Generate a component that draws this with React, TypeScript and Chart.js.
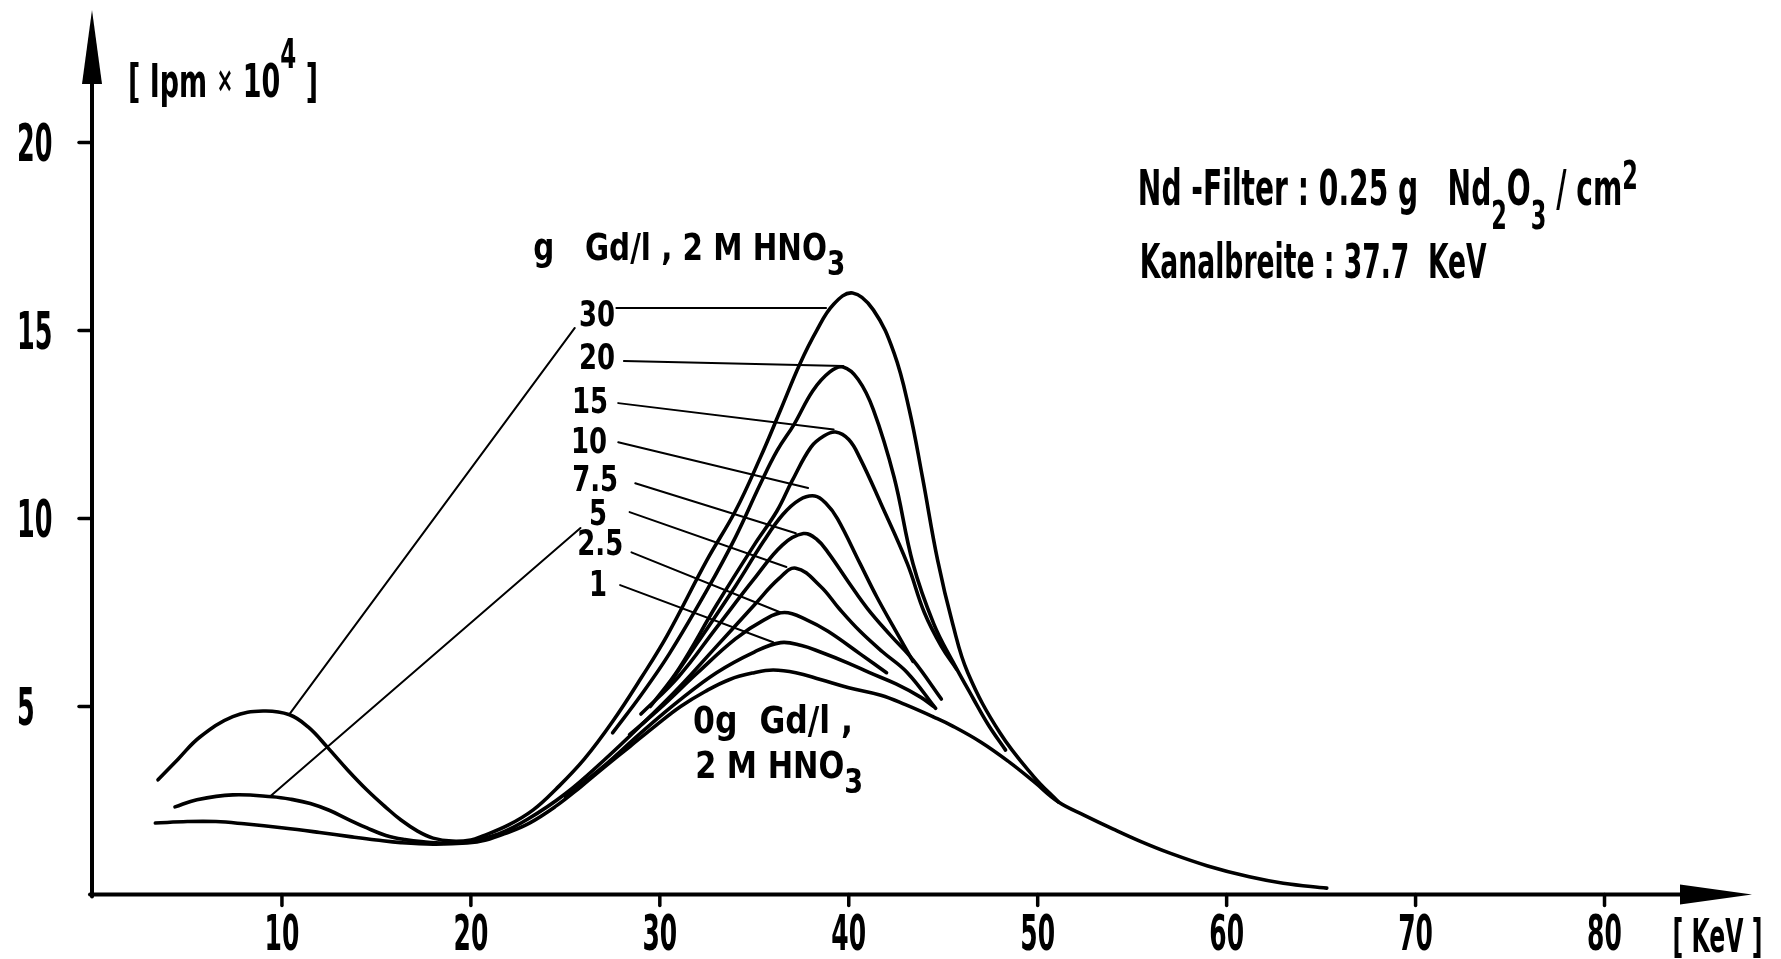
import { useEffect, useRef } from "react";
import { Chart, registerables } from "chart.js";

Chart.register(...registerables);

// ---------- data (energy keV, counts in 10^4 Ipm) ----------
const xTicks = [10, 20, 30, 40, 50, 60, 70, 80];
const yTicks = [5, 10, 15, 20];

const gd0: [number, number][] = [
  [3.3, 1.9], [5, 1.94], [6.5, 1.94], [8, 1.88], [10.1, 1.77], [12, 1.65], [13.6, 1.54], [15, 1.45],
  [16.3, 1.38], [18, 1.34], [19.8, 1.37], [20.8, 1.45], [21.8, 1.62], [23.1, 1.9], [24.5, 2.35],
  [25.8, 2.86], [27.1, 3.4], [28.4, 3.93], [29.8, 4.5], [31.1, 5.0], [32.4, 5.4], [33.7, 5.72],
  [35, 5.9], [36, 5.97], [37.2, 5.9], [38.5, 5.72], [40, 5.5], [41.7, 5.3], [43, 5.05], [44.5, 4.72],
  [45.5, 4.48], [47, 4.05], [48.5, 3.52], [49.8, 3.0], [51.1, 2.46], [52.5, 2.1], [54, 1.74],
  [55.5, 1.4], [57, 1.1], [59, 0.76], [61.2, 0.47], [63, 0.3], [65.3, 0.17],
];
const gd1: [number, number][] = [
  [25, 2.6], [27, 3.4], [29, 4.3], [31, 5.15], [33, 5.9], [35, 6.45], [36.4, 6.7], [37.5, 6.62],
  [38.5, 6.45], [40, 6.15], [41.1, 5.9], [42.5, 5.6], [43.8, 5.25], [44.5, 5.0],
];
const gd2_5: [number, number][] = [
  [28.4, 4.25], [30, 4.95], [32, 5.9], [34, 6.8], [35.5, 7.3], [36.6, 7.5], [37.8, 7.3], [38.9, 7.0],
  [40.6, 6.4], [42, 5.9],
];
const gd5: [number, number][] = [
  [4.34, 2.33], [5.5, 2.52], [7.4, 2.65], [9.5, 2.6], [10.5, 2.53], [11.5, 2.42], [12.5, 2.24],
  [13.5, 2.0], [14.5, 1.77], [15.5, 1.57], [16.5, 1.46], [17.5, 1.4], [18.6, 1.37], [19.8, 1.4],
  [21.5, 1.62], [23, 2.0], [25, 2.68], [27, 3.55], [29, 4.5], [31, 5.5], [33, 6.6], [35, 7.7],
  [36.3, 8.4], [37.2, 8.68], [38.5, 8.2], [39.5, 7.6], [40.6, 7.0], [41.8, 6.45], [43.1, 5.9],
  [44.6, 4.95],
];
const gd7_5: [number, number][] = [
  [29, 4.8], [31, 5.8], [33, 7.1], [35, 8.4], [36.5, 9.3], [37.6, 9.6], [38.3, 9.45], [38.9, 9.1],
  [40, 8.3], [41, 7.6], [42.2, 6.9], [43.4, 6.24], [44.9, 5.2],
];
const gd10: [number, number][] = [
  [30.5, 5.6], [32, 6.7], [34, 8.2], [35.5, 9.4], [36.5, 10.1], [37.4, 10.5], [38.2, 10.6],
  [38.8, 10.4], [39.4, 10.0], [40.6, 8.8], [41.5, 7.9], [42.5, 7.0], [43.4, 6.2],
];
const gd15: [number, number][] = [
  [29.5, 5.0], [31, 6.0], [33, 7.7], [35, 9.3], [36.2, 10.2], [37, 11.0], [38, 11.9], [38.7, 12.2],
  [39.3, 12.3], [40, 12.1], [40.6, 11.6], [41.7, 10.4], [43.1, 8.8], [44, 7.5], [44.9, 6.6], [45.7, 6.0],
];
const gd20: [number, number][] = [
  [27.5, 4.3], [29, 5.3], [30.5, 6.4], [32.5, 8.1], [34, 9.5], [35.3, 10.9], [36.2, 11.8], [37.1, 12.5],
  [38.1, 13.4], [39, 13.9], [39.7, 14.03], [40.5, 13.7], [41.3, 12.9], [42.4, 11.1], [43.4, 8.8],
  [44.5, 7.2], [45.5, 6.2], [46.6, 5.2], [47.4, 4.5], [48.3, 3.84],
];
const gd30: [number, number][] = [
  [3.44, 3.05], [4.5, 3.6], [5.66, 4.19], [7.4, 4.73], [9, 4.88], [10.4, 4.78], [11.4, 4.45],
  [12.4, 3.92], [13.5, 3.3], [14.5, 2.78], [15.5, 2.32], [16.3, 1.98], [17.2, 1.68], [18, 1.5],
  [19, 1.42], [20, 1.45], [20.6, 1.55], [22, 1.85], [23.3, 2.25], [24.5, 2.8], [26, 3.6], [27.5, 4.6],
  [29, 5.75], [30.4, 6.9], [32.5, 8.9], [34, 10.2], [35.3, 11.6], [36.4, 12.9], [37.4, 14.1],
  [38.3, 15.0], [39.2, 15.7], [40.2, 16.0], [41.3, 15.55], [42.4, 14.4], [43.2, 12.9], [43.9, 11.1],
  [44.7, 8.9], [45.5, 7.2], [46.3, 5.9], [48, 4.3], [49.8, 3.13], [51.1, 2.46],
];

// curve labels: text, right-edge energy, centre counts
const labelTexts = ["30", "20", "15", "10", "7.5", "5", "2.5", "1"];
const labelX = [27.63, 27.63, 27.26, 27.21, 27.79, 27.21, 28.06, 27.21];
const labelY = [15.47, 14.32, 13.15, 12.09, 11.08, 10.17, 9.38, 8.28];

// leader lines from labels to curves
const leaders: [number, number][][] = [
  [[27.7, 15.6], [38.8, 15.6]],
  [[28.1, 14.19], [39.7, 14.06]],
  [[27.8, 13.07], [39.2, 12.37]],
  [[27.8, 12.03], [37.85, 10.81]],
  [[28.7, 10.94], [37.2, 9.61]],
  [[28.4, 10.17], [36.7, 8.71]],
  [[28.5, 9.1], [36.4, 7.5]],
  [[27.9, 8.23], [36.0, 6.71]],
  [[25.5, 15.07], [10.4, 4.8]],
  [[25.8, 9.75], [9.4, 2.62]],
];

const curves = [gd0, gd1, gd2_5, gd5, gd7_5, gd10, gd15, gd20, gd30];

const FONT = "'DejaVu Sans', 'Liberation Sans', sans-serif";

type Part = { t: string; s?: number; dy?: number };

function rich(
  ctx: CanvasRenderingContext2D,
  parts: Part[],
  x: number,
  y: number,
  size: number,
  opts: { sx?: number; width?: number; align?: "left" | "right" | "center" } = {}
) {
  const fonts = parts.map((p) => `bold ${Math.round(size * (p.s ?? 1))}px ${FONT}`);
  const ws = parts.map((p, i) => {
    ctx.font = fonts[i];
    return ctx.measureText(p.t).width;
  });
  const total = ws.reduce((a, b) => a + b, 0);
  const sx = opts.width ? opts.width / total : opts.sx ?? 0.52;
  let x0 = x;
  if (opts.align === "right") x0 = x - total * sx;
  else if (opts.align === "center") x0 = x - (total * sx) / 2;
  ctx.save();
  ctx.translate(x0, y);
  ctx.scale(sx, 1);
  ctx.textAlign = "left";
  ctx.textBaseline = "alphabetic";
  let cx = 0;
  parts.forEach((p, i) => {
    ctx.font = fonts[i];
    ctx.fillText(p.t, cx, (p.dy ?? 0) * size);
    cx += ws[i];
  });
  ctx.restore();
}

const annotPlugin = {
  id: "annot",
  beforeDraw(chart: any) {
    const { ctx, width, height } = chart;
    ctx.save();
    ctx.fillStyle = "#fff";
    ctx.fillRect(0, 0, width, height);
    ctx.restore();
  },
  afterDatasetsDraw(chart: any) {
    const ctx: CanvasRenderingContext2D = chart.ctx;
    const xs = chart.scales.x;
    const ys = chart.scales.y;
    const ca = chart.chartArea;
    const px = (v: number) => xs.getPixelForValue(v);
    const py = (v: number) => ys.getPixelForValue(v);
    ctx.save();
    ctx.strokeStyle = "#000";
    ctx.fillStyle = "#000";
    ctx.lineCap = "round";
    const x0 = px(0) - 1;
    const y0 = py(0);

    // axes
    ctx.lineWidth = 4;
    ctx.beginPath();
    ctx.moveTo(x0, y0 + 2);
    ctx.lineTo(x0, ca.top + 70);
    ctx.stroke();
    ctx.beginPath();
    ctx.moveTo(x0 - 2, y0);
    ctx.lineTo(ca.right - 68, y0);
    ctx.stroke();
    ctx.beginPath();
    ctx.moveTo(x0, ca.top - 1);
    ctx.lineTo(x0 - 10, ca.top + 73);
    ctx.lineTo(x0 + 10, ca.top + 73);
    ctx.closePath();
    ctx.fill();
    ctx.beginPath();
    ctx.moveTo(ca.right + 2, y0);
    ctx.lineTo(ca.right - 70, y0 - 10);
    ctx.lineTo(ca.right - 70, y0 + 10);
    ctx.closePath();
    ctx.fill();

    // ticks
    ctx.lineWidth = 3.5;
    yTicks.forEach((v) => {
      ctx.beginPath();
      ctx.moveTo(x0 - 13, py(v));
      ctx.lineTo(x0, py(v));
      ctx.stroke();
      rich(ctx, [{ t: String(v) }], x0 - 75, py(v) + 18.5, 51, { sx: 0.5 });
    });
    xTicks.forEach((v) => {
      ctx.beginPath();
      ctx.moveTo(px(v), y0);
      ctx.lineTo(px(v), y0 + 11);
      ctx.stroke();
      rich(ctx, [{ t: String(v) }], px(v), y0 + 55, 50, { sx: 0.5, align: "center" });
    });

    // axis titles
    rich(ctx, [{ t: "[ KeV ]" }], px(83.6), y0 + 57, 46, { width: 90 });
    rich(
      ctx,
      [{ t: "[ Ipm " }, { t: "×", s: 0.75, dy: -0.12 }, { t: " 10" }, { t: "4", s: 0.85, dy: -0.62 }, { t: " ]" }],
      px(1.85),
      py(21.2),
      47,
      { width: 190 }
    );

    // curve labels
    labelTexts.forEach((t, i) => {
      rich(ctx, [{ t }], px(labelX[i]), py(labelY[i]) + 13, 36, { sx: 0.72, align: "right" });
    });

    // annotations
    rich(
      ctx,
      [{ t: "g   Gd/l , 2 M HNO" }, { t: "3", s: 0.9, dy: 0.4 }],
      px(23.3),
      py(16.87),
      38,
      { width: 312 }
    );
    rich(ctx, [{ t: "0g  Gd/l ," }], px(31.76), py(4.3), 37, { width: 160 });
    rich(ctx, [{ t: "2 M HNO" }, { t: "3", s: 0.9, dy: 0.4 }], px(31.87), py(3.1), 37, { width: 168 });
    rich(
      ctx,
      [
        { t: "Nd -Filter : 0.25 g   Nd" },
        { t: "2", s: 0.8, dy: 0.5 },
        { t: "O" },
        { t: "3", s: 0.8, dy: 0.5 },
        { t: " / cm" },
        { t: "2", s: 0.8, dy: -0.32 },
      ],
      px(55.3),
      py(18.34),
      49,
      { width: 500 }
    );
    rich(ctx, [{ t: "Kanalbreite : 37.7  KeV" }], px(55.4), py(16.4), 48, { width: 347 });

    ctx.restore();
  },
};

export default function App() {
  const ref = useRef<HTMLCanvasElement | null>(null);
  useEffect(() => {
    if (!ref.current) return;
    const curveSets = curves.map((c) => ({
      data: c.map(([x, y]) => ({ x, y })),
      borderColor: "#000",
      borderWidth: 3.6,
      cubicInterpolationMode: "default" as const,
      tension: 0.4,
      pointRadius: 0,
      fill: false,
      borderCapStyle: "round" as const,
      borderJoinStyle: "round" as const,
    }));
    const leaderSets = leaders.map((l) => ({
      data: l.map(([x, y]) => ({ x, y })),
      borderColor: "#000",
      borderWidth: 2,
      tension: 0,
      pointRadius: 0,
      fill: false,
      borderCapStyle: "round" as const,
    }));
    const chart = new Chart(ref.current, {
      type: "line",
      data: { datasets: [...curveSets, ...leaderSets] as any },
      options: {
        animation: false,
        responsive: false,
        maintainAspectRatio: false,
        devicePixelRatio: 1,
        layout: { padding: { left: 93, right: 31, top: 11, bottom: 64.5 } },
        scales: {
          x: { type: "linear", min: 0, max: 87.7, display: false },
          y: { type: "linear", min: 0, max: 23.5, display: false },
        },
        plugins: { legend: { display: false }, tooltip: { enabled: false } },
        elements: { point: { radius: 0 } },
      },
      plugins: [annotPlugin],
    });
    return () => chart.destroy();
  }, []);
  return (
    <div style={{ position: "fixed", left: 0, top: 0, width: 1781, height: 959, background: "#fff" }}>
      <canvas ref={ref} width={1781} height={959} style={{ display: "block" }} />
    </div>
  );
}
